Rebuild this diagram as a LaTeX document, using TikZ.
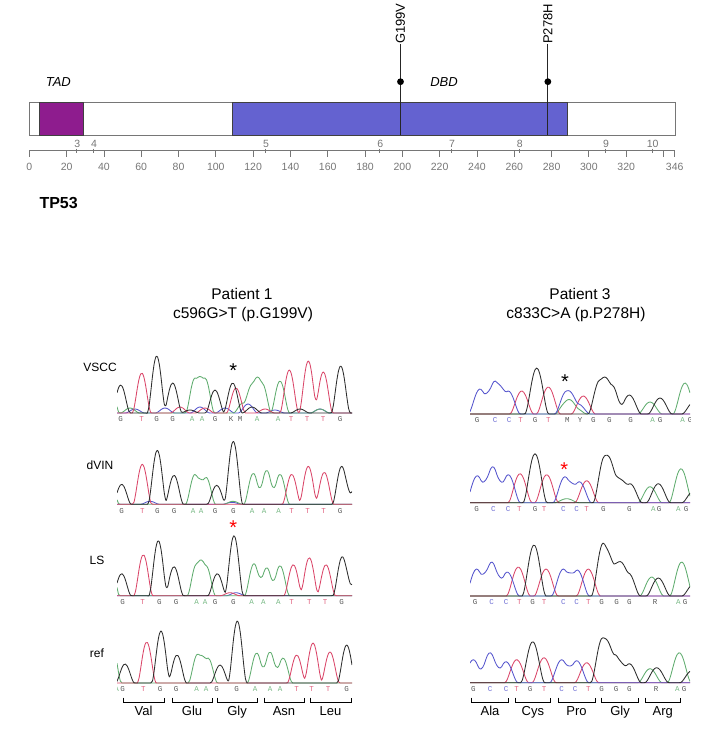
\documentclass[tikz,border=0pt]{standalone}
\usepackage{fontspec}
\setmainfont{Liberation Sans}
\setmonofont{Liberation Mono}

\definecolor{baseA}{RGB}{95,172,110}
\definecolor{baseC}{RGB}{85,85,205}
\definecolor{baseG}{RGB}{45,45,45}
\definecolor{baseT}{RGB}{218,70,105}
\definecolor{tadcol}{RGB}{142,28,142}
\definecolor{dbdcol}{RGB}{100,98,208}
\definecolor{axisgray}{RGB}{118,118,118}

% one channel of a chromatogram: colour, baseline, domain, peak width, peaks x/h
\newcommand\trace[5]{%
  \gdef\pksum{0}%
  \foreach \p/\h in {#5}{%
    \xdef\pksum{\unexpanded\expandafter{\pksum}+\h*(max(0,1-((\noexpand\x-\p)/#4)^2))^2}}%
  \draw[chrom,#1] plot[domain=#3, samples=140, smooth] (\x,{#2-(\pksum)});
}
% called bases under a trace
\newcommand\baserow[3]{%
  \foreach \xx/\b [count=\i] in {#3} \node[basetxt, l\b] (#1\i) at (\xx,#2) {\b};
}

\begin{document}
\begin{tikzpicture}[x=1pt, y=-1pt,
  every node/.style={inner sep=0pt},
  chrom/.style={line width=0.85pt, line join=round},
  basetxt/.style={font=\fontsize{7.5}{8}\selectfont\ttfamily},
  lA/.style={text=baseA!85}, lC/.style={text=baseC!85}, lG/.style={text=baseG!80},
  lT/.style={text=baseT!85}, lK/.style={text=baseG!80}, lM/.style={text=baseG!80},
  lY/.style={text=baseG!80}, lR/.style={text=baseG!80},
  ticklbl/.style={font=\fontsize{10.5}{12}\selectfont, text=axisgray, anchor=base},
  domlbl/.style={font=\fontsize{13}{15}\selectfont\itshape, anchor=base},
  mutlbl/.style={font=\fontsize{13}{15}\selectfont, rotate=90, anchor=west},
  rowlbl/.style={font=\fontsize{12}{14}\selectfont, anchor=base},
  aalbl/.style={font=\fontsize{13}{15}\selectfont, anchor=base},
  titlelbl/.style={font=\fontsize{15.5}{18}\selectfont, anchor=base},
  star/.style={font=\fontsize{20}{20}\selectfont, anchor=base}]

\useasboundingbox (0,0) rectangle (704,745);

% protein bar
\draw[axisgray, fill=white] (29.3,102) rectangle (674.7,135);
\draw[fill=tadcol, draw=black!75] (39.3,102) rectangle (83.3,135);
\draw[fill=dbdcol, draw=black!75] (232.3,102) rectangle (567,135);
\node[domlbl] (tad) at (58.3,86.7) {TAD};
\node[domlbl] (dbd) at (444,86.7) {DBD};

% mutations
\foreach \aa/\lbl [count=\i] in {199/G199V, 278/P278H} {
  \coordinate (mut\i) at ({29.3+\aa*1.8653},135);
  \node[mutlbl] (mlbl\i) at ({29.3+\aa*1.8653},44) {\lbl};
  \draw[black!85, line width=0.8pt] (mut\i) -- (mlbl\i.west);
  \fill ({29.3+\aa*1.8653},81.7) circle (3.4);
}

% axis
\draw[axisgray, line width=0.8pt] (29.3,150.7) -- (674.7,150.7);
\foreach \v in {0,20,...,340,346}
  \draw[axisgray, line width=0.8pt] ({29.3+\v*1.8653},150.7) -- ++(0,6);
\foreach \v in {0,20,...,320,346}
  \node[ticklbl] (tick\v) at ({29.3+\v*1.8653},170) {\v};
\foreach \ex/\xx in {3/77.3, 4/94, 5/266, 6/380.3, 7/452, 8/519.7, 9/606, 10/652.7} {
  \draw[axisgray] (\xx-1,148.5) -- (\xx-1,153);
  \node[ticklbl] (exon\ex) at (\xx,147.3) {\ex};
}
\node[font=\fontsize{16}{18}\selectfont\bfseries, anchor=base west] (gene) at (39.3,208.3) {TP53};

% titles
\node[titlelbl] (pat1) at (242,299.3) {Patient 1};
\node[titlelbl] (mut1txt) at (243,318.3) {c596G>T (p.G199V)};
\node[titlelbl] (pat3) at (580,299.3) {Patient 3};
\node[titlelbl] (mut3txt) at (576,318.3) {c833C>A (p.P278H)};

% row labels
\node[rowlbl] (vscc) at (100,371.3) {VSCC};
\node[rowlbl] (dvin) at (100,469.5) {dVIN};
\node[rowlbl] (ls) at (97,564.5) {LS};
\node[rowlbl] (ref) at (97,657.5) {ref};

% patient 1 traces
\begin{scope}
  \clip (117,330) rectangle (352,695);
  % VSCC
  \trace{baseC}{413}{117:352}{9.5}{135/4, 165/5, 200/6, 225/5, 248/9, 275/3, 320/4}
  \trace{baseA}{413}{117:352}{9.5}{110/30, 130/5, 195/35, 205/35, 243/10, 253/30, 262/30, 280/32, 320/4}
  \trace{baseT}{413}{117:352}{9.5}{141.7/40, 180/6, 205/5, 236/25, 265/4, 289.3/43, 308.3/52, 323.3/41}
  \trace{baseG}{413}{117:352}{9.5}{120.7/28, 156.7/57, 172.7/30, 190/3, 215/23, 232.7/30, 252/6, 300/4, 340.7/47}
  \baserow{vs}{419.5}{120.7/G, 141.7/T, 156.7/G, 172.7/G, 192/A, 202/A, 215/G, 231/K, 240/M, 257/A, 278/A, 291/T, 307/T, 323/T, 340/G}
  % dVIN
  \trace{baseC}{504.3}{117:352}{9.5}{150/3, 232/2}
  \trace{baseA}{504.3}{117:352}{9.5}{110/22, 195/30, 206/27, 233/3, 253.3/31, 266.7/34, 280/30}
  \trace{baseT}{504.3}{117:352}{9.5}{142.3/40, 291.7/30, 308.3/38, 324.3/32}
  \trace{baseG}{504.3}{117:352}{9.5}{121.7/20, 157.3/54, 174/29, 216.7/19, 233.3/63, 341.7/38, 354/14}
  \baserow{dv}{510.7}{121.7/G, 142.3/T, 157.3/G, 174/G, 193/A, 201/A, 215/G, 233.3/G, 252/A, 264/A, 278.5/A, 291.7/T, 307.5/T, 323.5/T, 340/G}
  % LS
  \trace{baseC}{595.7}{117:352}{9.5}{236/3}
  \trace{baseA}{595.7}{117:352}{9.5}{110/40, 196.7/32, 206/30, 254/32, 266.7/28, 280/30}
  \trace{baseT}{595.7}{117:352}{9.5}{143.3/41, 230/3, 293.3/31, 309.3/38, 326/31}
  \trace{baseG}{595.7}{117:352}{9.5}{121.7/22, 158.3/55, 174/29, 217.3/22, 234/60, 342.3/39, 354/12}
  \baserow{ls}{602.3}{122.7/G, 142.7/T, 159.3/G, 176/G, 196.7/A, 205/A, 215/G, 233.3/G, 251.7/A, 263.3/A, 278.3/A, 291.7/T, 309.3/T, 325/T, 341.7/G}
  % ref
  \trace{baseA}{683}{117:352}{9.5}{112/38, 197.7/29, 208/25, 256.7/30, 270/31, 283/25}
  \trace{baseT}{683}{117:352}{9.5}{146.7/41, 296.7/28, 313/40, 330/31}
  \trace{baseG}{683}{117:352}{9.5}{125/19, 161/52, 177/28, 220/18, 237.3/62, 346.7/38}
  \baserow{rf}{689.3}{116.5/A, 122.7/G, 143.3/T, 160/G, 176/G, 196.7/A, 206/A, 216.7/G, 236.7/G, 255/A, 270/A, 280/A, 296.7/T, 311.7/T, 328/T, 346.7/G}
\end{scope}

% patient 3 traces
\begin{scope}
  \clip (470,330) rectangle (690,695);
  % VSCC
  \trace{baseA}{414}{470:690}{12}{566.7/12, 575/6, 650/12, 685/31}
  \trace{baseT}{414}{470:690}{12}{521.7/23, 548.3/27, 583.3/18}
  \trace{baseC}{414}{470:690}{12}{480/25, 495/33, 508.3/23, 566.7/23, 578/10}
  \trace{baseG}{414}{470:690}{12}{536.7/46, 600/34, 611.7/29, 629.3/19, 660/16, 694/12}
  \baserow{vr}{420.5}{477/G, 495/C, 509/C, 520.7/T, 535/G, 548.3/T, 567.3/M, 580/Y, 593.3/G, 609.3/G, 630.7/G, 652.7/A, 660/G, 682.7/A, 690/G}
  % dVIN
  \trace{baseA}{502.7}{470:690}{12}{566.7/4, 650/16, 681/34}
  \trace{baseT}{502.7}{470:690}{12}{520/29, 546.7/28, 586.7/22}
  \trace{baseC}{502.7}{470:690}{12}{477.3/27, 492.7/36, 508.3/28, 565/26, 579.3/21}
  \trace{baseG}{502.7}{470:690}{12}{535/49, 605/47, 616.7/26, 630/19, 658.3/19, 694/12}
  \baserow{dr}{509.3}{476.7/G, 493.3/C, 508/C, 519.3/T, 535/G, 544/T, 563.3/C, 576.7/C, 586.7/T, 603.3/G, 629.3/G, 653.3/A, 659/G, 678.3/A, 686/G}
  % LS
  \trace{baseA}{596}{470:690}{12}{651.7/19, 681.7/34}
  \trace{baseT}{596}{470:690}{12}{518.3/29, 546/27, 588.3/27}
  \trace{baseC}{596}{470:690}{12}{476.7/27, 491.7/34, 507.3/24, 563.3/27, 577.3/26}
  \trace{baseG}{596}{470:690}{12}{534/51, 603.3/53, 616.7/33, 628.3/23, 658.3/18, 694/12}
  \baserow{lr}{602}{475/G, 491.7/C, 506/C, 519.3/T, 532.7/G, 544/T, 563.3/C, 576.7/C, 588.3/T, 601.7/G, 616.7/G, 629.3/G, 655/R, 678.3/A, 685/G}
  % ref
  \trace{baseA}{682.7}{470:690}{12}{650/14, 679.3/30}
  \trace{baseT}{682.7}{470:690}{12}{516.7/23, 544/25, 586.7/20}
  \trace{baseC}{682.7}{470:690}{12}{473.3/23, 490/30, 506/21, 561.7/23, 576.7/22}
  \trace{baseG}{682.7}{470:690}{12}{532.7/41, 602.7/45, 615/28, 629.3/19, 656.7/15, 692/12}
  \baserow{rr}{689}{473.3/G, 490/C, 506/C, 516.7/T, 530/G, 544/T, 561.7/C, 575/C, 588.3/T, 601.7/G, 616/G, 629.3/G, 656/R, 677.3/A, 684/G}
\end{scope}

% mutation marks
\node[star] (st1) at (233.3,377) {*};
\node[star, text=red] (st2) at (233.3,534.5) {*};
\node[star] (st3) at (565,388) {*};
\node[star, text=red] (st4) at (564.3,476) {*};

% codon brackets
\foreach \a/\b/\aa [count=\i] in {123/164/Val, 172/212/Glu, 217/257/Gly, 264/304/Asn, 310/351/Leu,
    471.7/508.3/Ala, 515/550.7/Cys, 558/595/Pro, 601.7/638.3/Gly, 645/680.7/Arg} {
  \draw[line width=0.8pt] (\a,697.5) -- (\a,702.5) -- (\b,702.5) -- (\b,697.5);
  \node[aalbl] (codon\i) at ({(\a+\b)/2},715) {\aa};
}
\end{tikzpicture}
\end{document}
